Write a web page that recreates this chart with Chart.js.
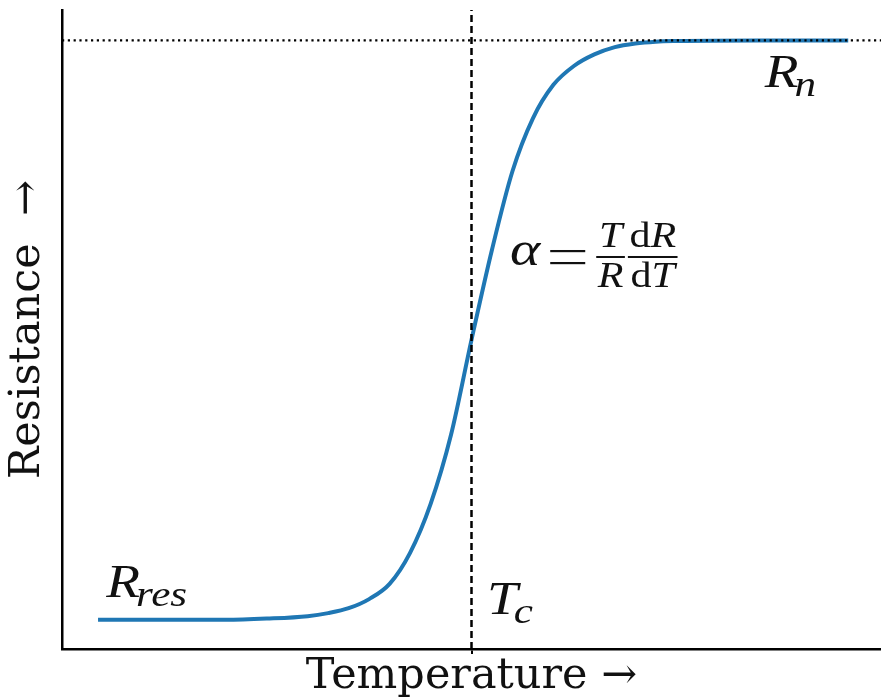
<!DOCTYPE html>
<html>
<head>
<meta charset="utf-8">
<title>Resistance vs temperature</title>
<script src="https://cdn.jsdelivr.net/npm/chart.js@4/dist/chart.umd.min.js"></script>
<style>
  html, body { margin: 0; padding: 0; background: #fff; }
  #wrap { width: 881px; height: 699px; position: relative; }
</style>
</head>
<body>
<div id="wrap"><canvas id="rt-chart"></canvas></div>
<script>
// Superconducting transition, arbitrary units
const temperature = [0.44, 1.5, 2.0, 2.5, 3.0, 3.25, 3.5, 3.75, 4.0, 4.25,
                     4.5, 4.75, 5.0, 5.25, 5.5, 5.75, 6.0, 6.25, 6.5, 6.75,
                     7.0, 7.25, 7.5, 8.5, 9.6];
const resistance  = [0.048, 0.048, 0.048, 0.050, 0.054, 0.059, 0.067, 0.082, 0.107, 0.158,
                     0.238, 0.352, 0.508, 0.656, 0.785, 0.872, 0.927, 0.958, 0.977, 0.989,
                     0.995, 0.998, 0.999, 1.000, 1.000];
const T_C = 5;        // critical temperature
const R_N = 1.0;      // normal-state resistance
const tempRange = [0, 10];
const resRange = [0, 1.05];

const MATH_FONT = '"Liberation Serif", "DejaVu Serif", serif';
const LABEL_FONT = '"DejaVu Serif", serif';
const SX = 1.2;       // widen the Times glyphs a little

function setFont(ctx, size, style) {
  ctx.font = `${style || 'italic'} ${size}px ${MATH_FONT}`;
}

// one stretched text run, returns its advance
function glyphs(ctx, txt, x, y) {
  ctx.save();
  ctx.translate(x, y);
  ctx.scale(SX, 1);
  ctx.fillText(txt, 0, 0);
  ctx.restore();
  return ctx.measureText(txt).width * SX;
}

// list of [text, style] runs from x on baseline y, return end x
function runs(ctx, parts, x, y, size) {
  for (const [txt, style] of parts) {
    setFont(ctx, size, style);
    x += glyphs(ctx, txt, x, y);
  }
  return x;
}

function runsWidth(ctx, parts, size) {
  let w = 0;
  for (const [txt, style] of parts) {
    setFont(ctx, size, style);
    w += ctx.measureText(txt).width * SX;
  }
  return w;
}

function frac(ctx, left, bar, num, den, size) {
  const wN = runsWidth(ctx, num, size);
  const wD = runsWidth(ctx, den, size);
  const w = Math.max(wN, wD) + 3;
  runs(ctx, num, left + (w - wN) / 2, bar - 10, size);
  runs(ctx, den, left + (w - wD) / 2, bar + 30, size);
  ctx.fillRect(left, bar - 1, w, 2);
  return left + w;
}

// symbol with a subscript
function subscripted(ctx, x, y, main, sub) {
  setFont(ctx, 46);
  const w = glyphs(ctx, main, x, y);
  setFont(ctx, 36);
  glyphs(ctx, sub, x + w - 4, y + 9);
}

const mathLabels = {
  id: 'mathLabels',
  afterDatasetsDraw(chart) {
    const { ctx, scales: { x, y } } = chart;
    ctx.save();
    ctx.fillStyle = '#111';
    ctx.textBaseline = 'alphabetic';
    ctx.textAlign = 'left';

    subscripted(ctx, x.getPixelForValue(0.54), y.getPixelForValue(0.085), 'R', 'res');
    subscripted(ctx, x.getPixelForValue(T_C + 0.19), y.getPixelForValue(0.057), 'T', 'c');
    subscripted(ctx, x.getPixelForValue(8.58), y.getPixelForValue(0.923), 'R', 'n');

    // alpha = (T/R) dR/dT
    const ax = x.getPixelForValue(5.47);
    const base = y.getPixelForValue(0.631);
    const bar = base - 8;
    setFont(ctx, 48);
    let cx = ax + glyphs(ctx, 'α', ax, base) + 10;
    ctx.fillRect(cx, bar - 7, 35, 2.2);
    ctx.fillRect(cx, bar + 5, 35, 2.2);
    cx += 46;
    cx = frac(ctx, cx, bar, [['T', 'italic']], [['R', 'italic']], 35);
    cx += 3;
    frac(ctx, cx, bar, [['d', 'normal'], ['R', 'italic']], [['d', 'normal'], ['T', 'italic']], 35);
    ctx.restore();
  }
};

function initChart() {
  const ctx = document.getElementById('rt-chart').getContext('2d');
  const curve = temperature.map((t, i) => ({ x: t, y: resistance[i] }));

  return new Chart(ctx, {
    type: 'scatter',
    data: {
      datasets: [{
        label: 'R(T)',
        data: curve,
        showLine: true,
        borderColor: '#1f77b4',
        borderWidth: 4,
        pointRadius: 0,
        cubicInterpolationMode: 'monotone',
        order: 2
      }, {
        label: 'R_n',
        data: [{ x: tempRange[0], y: R_N }, { x: tempRange[1], y: R_N }],
        showLine: true,
        borderColor: '#000',
        borderWidth: 2.2,
        borderDash: [2.2, 3.6],
        pointRadius: 0,
        order: 1
      }, {
        label: 'T_c',
        data: [{ x: T_C, y: resRange[0] }, { x: T_C, y: resRange[1] }],
        showLine: true,
        borderColor: '#000',
        borderWidth: 2.5,
        borderDash: [7, 4],
        pointRadius: 0,
        order: 1
      }]
    },
    options: {
      responsive: true,
      maintainAspectRatio: false,
      animation: false,
      layout: { padding: { top: 10, right: 0, bottom: 1, left: 4 } },
      plugins: {
        legend: { display: false },
        tooltip: { enabled: false }
      },
      scales: {
        x: {
          type: 'linear',
          min: tempRange[0],
          max: tempRange[1],
          afterBuildTicks: (scale) => { scale.ticks = [{ value: T_C }]; },
          ticks: { display: false },
          grid: {
            display: true,
            drawOnChartArea: false,
            drawTicks: true,
            tickLength: 5,
            color: '#000',
            lineWidth: 2
          },
          border: { display: true, color: '#000', width: 2.5 },
          title: {
            display: true,
            text: 'Temperature \u2192',
            color: '#111',
            font: { family: LABEL_FONT, size: 43, lineHeight: 1 },
            padding: { top: 1, bottom: 0 }
          }
        },
        y: {
          type: 'linear',
          min: resRange[0],
          max: resRange[1],
          ticks: { display: false },
          grid: { display: false },
          border: { display: true, color: '#000', width: 2.5 },
          title: {
            display: true,
            text: 'Resistance  \u2192',
            color: '#111',
            font: { family: LABEL_FONT, size: 43, lineHeight: 1 },
            padding: { top: 2, bottom: 5 }
          }
        }
      }
    },
    plugins: [mathLabels]
  });
}

document.addEventListener('DOMContentLoaded', initChart);
</script>
</body>
</html>
